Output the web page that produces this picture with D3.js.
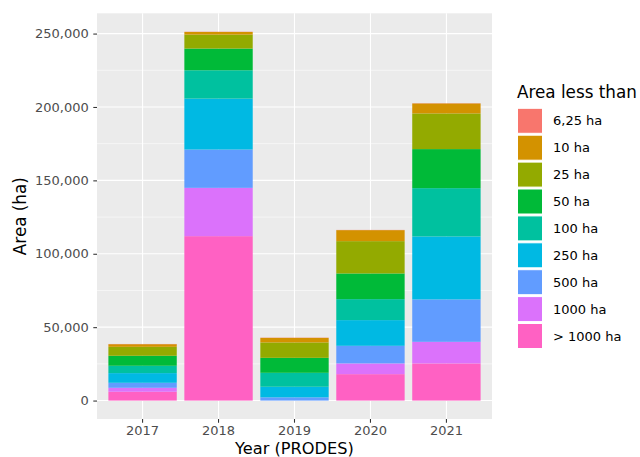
<!DOCTYPE html>
<html><head><meta charset="utf-8">
<script src="https://cdn.jsdelivr.net/npm/d3@7"></script>
<style>body{margin:0;background:#fff}svg{display:block}text{font-family:"DejaVu Sans",sans-serif}</style>
</head><body><svg id="c" width="640" height="457"></svg>
<script>
const years = ["2017","2018","2019","2020","2021"];
const classes = ["6,25 ha","10 ha","25 ha","50 ha","100 ha","250 ha","500 ha","1000 ha","> 1000 ha"];
const colors = ["#F8766D","#D39200","#93AA00","#00BA38","#00C19F","#00B9E3","#619CFF","#DB72FB","#FF61C3"];
// values per class (ha), one per year
const v625   = [150, 150, 150, 150, 150];
const v10    = [1800, 1800, 3100, 7500, 6800];
const v25    = [6100, 9500, 10500, 22000, 24300];
const v50    = [6800, 14800, 10200, 17500, 26600];
const v100   = [5000, 19300, 9500, 14300, 32900];
const v250   = [6600, 34700, 7200, 17500, 42900];
const v500   = [3400, 26100, 2200, 12000, 28900];
const v1000  = [2700, 32900, 0, 7300, 14700];
const vOver  = [6000, 112000, 0, 18000, 25300];
const yTicks = [0, 50000, 100000, 150000, 200000, 250000];

const series = [v625, v10, v25, v50, v100, v250, v500, v1000, vOver];
const rows = years.map((y, i) => {
  const r = {year: y};
  classes.forEach((c, k) => r[c] = series[k][i]);
  return r;
});

const svg = d3.select("#c");
const P = {l: 97, r: 492, t: 13.3, b: 419};

const stackKeys = classes.slice().reverse();
const stacked = d3.stack().keys(stackKeys)(rows);
const ymax = d3.max(rows, r => d3.sum(classes, c => r[c]));
const pad = ymax * 0.05;

const unit = (P.r - P.l) / 5.2;
const x = d3.scaleBand().domain(years)
  .range([P.l + 0.1 * unit, P.r - 0.1 * unit]).paddingInner(0.1).paddingOuter(0.05);
const y = d3.scaleLinear().domain([-pad, ymax + pad]).range([P.b, P.t]);

// panel
svg.append("rect").attr("x", P.l).attr("y", P.t).attr("width", P.r - P.l).attr("height", P.b - P.t).attr("fill", "#EBEBEB");
const minor = yTicks.slice(0, -1).map((t, i) => (t + yTicks[i + 1]) / 2);
svg.append("g").selectAll("line").data(minor).join("line")
  .attr("x1", P.l).attr("x2", P.r).attr("y1", d => y(d)).attr("y2", d => y(d))
  .attr("stroke", "#fff").attr("stroke-width", 0.55);
svg.append("g").selectAll("line").data(yTicks).join("line")
  .attr("x1", P.l).attr("x2", P.r).attr("y1", d => y(d)).attr("y2", d => y(d))
  .attr("stroke", "#fff").attr("stroke-width", 1.1);
svg.append("g").selectAll("line").data(years).join("line")
  .attr("x1", d => x(d) + x.bandwidth() / 2).attr("x2", d => x(d) + x.bandwidth() / 2)
  .attr("y1", P.t).attr("y2", P.b)
  .attr("stroke", "#fff").attr("stroke-width", 1.1);

// bars
const color = d3.scaleOrdinal().domain(classes).range(colors);
svg.append("g").selectAll("g").data(stacked).join("g")
  .attr("fill", d => color(d.key))
  .selectAll("rect").data(d => d).join("rect")
  .attr("x", d => x(d.data.year))
  .attr("width", x.bandwidth())
  .attr("y", d => y(d[1]))
  .attr("height", d => Math.max(0, y(d[0]) - y(d[1])));

// axes
const yAxis = d3.axisLeft(y).tickValues(yTicks).tickFormat(d3.format(",")).tickSize(3.7).tickPadding(4.5);
const gy = svg.append("g").attr("transform", `translate(${P.l},0)`).call(yAxis);
const xAxis = d3.axisBottom(x).tickSize(3.7).tickPadding(3.3);
const gx = svg.append("g").attr("transform", `translate(0,${P.b})`).call(xAxis);
[gy, gx].forEach(g => {
  g.select(".domain").remove();
  g.selectAll(".tick line").attr("stroke", "#333").attr("stroke-width", 1.07);
  g.selectAll(".tick text").attr("fill", "#4D4D4D").attr("font-size", "13px").attr("font-family", "DejaVu Sans");
});

svg.append("text").attr("x", (P.l + P.r) / 2).attr("y", 453.8).attr("text-anchor", "middle")
  .attr("font-size", "16.2px").attr("fill", "#000").text("Year (PRODES)");
svg.append("text").attr("transform", `translate(26,${(P.t + P.b) / 2}) rotate(-90)`).attr("text-anchor", "middle")
  .attr("font-size", "16.8px").attr("fill", "#000").text("Area (ha)");

// legend
const lg = svg.append("g");
lg.append("text").attr("x", 517).attr("y", 97.5).attr("font-size", "16.8px").attr("fill", "#000").text("Area less than");
const items = lg.selectAll("g").data(classes).join("g")
  .attr("transform", (d, i) => `translate(517.5,${108.3 + i * 26.9})`);
items.append("rect").attr("width", 25).attr("height", 25).attr("fill", d => color(d))
  .attr("stroke", "#fff").attr("stroke-width", 1);
items.append("text").attr("x", 35.5).attr("y", 12.5).attr("dy", "0.35em")
  .attr("font-size", "13px").attr("fill", "#000").text(d => d);
</script></body></html>
